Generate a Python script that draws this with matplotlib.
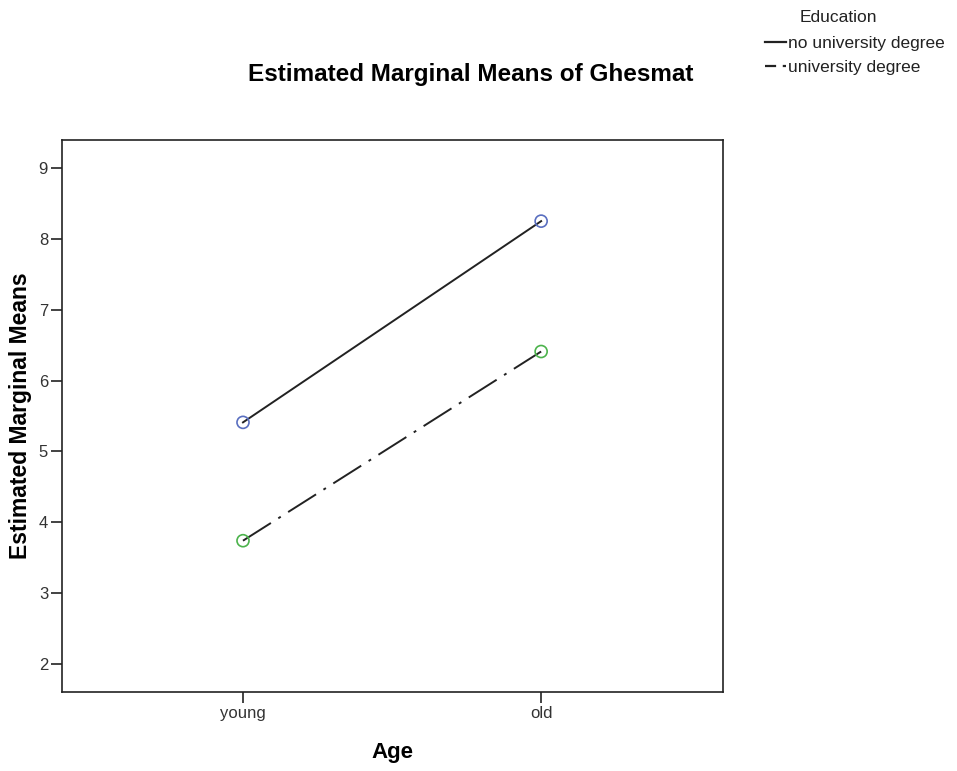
import matplotlib.pyplot as plt
from matplotlib.lines import Line2D

plt.rcParams['font.family'] = ['Liberation Sans', 'DejaVu Sans']

# Data
ages = ['young', 'old']
no_degree = [5.41, 8.25]
degree = [3.74, 6.41]
y_ticks = [2, 3, 4, 5, 6, 7, 8, 9]
series_names = ['no university degree', 'university degree']

fig = plt.figure(figsize=(9.57, 7.71), dpi=100)
ax = fig.add_axes([0.0648, 0.1025, 0.6907, 0.7159])

x = range(len(ages))
dashdot = (0, (17, 4.5, 1.5, 4.5))
ax.plot(x, no_degree, color='#222222', lw=1.4, ls='-', zorder=2)
ax.plot(x, degree, color='#222222', lw=1.4, ls=dashdot, zorder=2)
ax.scatter(x, no_degree, s=75, facecolors='none', edgecolors='#5a6fc0', linewidths=1.2, zorder=3)
ax.scatter(x, degree, s=75, facecolors='none', edgecolors='#4cb34c', linewidths=1.2, zorder=3)

ax.set_xlim(-0.607, 1.61)
ax.set_ylim(1.605, 9.395)
ax.set_xticks(list(x))
ax.set_xticklabels(ages)
ax.set_yticks(y_ticks)
ax.tick_params(axis='both', direction='out', length=8, width=1.2, pad=2,
               labelsize=12, colors='#222222', labelcolor='#333333')
for s in ax.spines.values():
    s.set_linewidth(1.2)
    s.set_color('#222222')

ax.set_xlabel('Age', fontsize=16, fontweight='bold', va='center')
ax.xaxis.set_label_coords(0.5, -0.109)
ax.set_ylabel('Estimated Marginal Means', fontsize=16.5, fontweight='bold', va='center')
ax.yaxis.set_label_coords(-0.0635, 0.5)
fig.text(0.492, 0.903, 'Estimated Marginal Means of Ghesmat', fontsize=17.5,
         fontweight='bold', ha='center', va='center')

# legend (short dash-dot proxy so the handle shows "- ·")
h1 = Line2D([], [], color='#222222', lw=1.6, ls='-')
h2 = Line2D([], [], color='#222222', lw=1.6, ls=(0, (5, 3, 1.5, 3)))
fig.text(0.876, 0.977, 'Education', fontsize=12.5, ha='center', va='center', color='#222222')
fig.legend([h1, h2], series_names, loc='upper left', bbox_to_anchor=(0.799, 0.953),
           frameon=False, fontsize=12.5, handlelength=1.25, handletextpad=0.1,
           labelspacing=0.5, borderaxespad=0, borderpad=0, labelcolor='#222222')

fig.savefig('out.png', dpi=100)
